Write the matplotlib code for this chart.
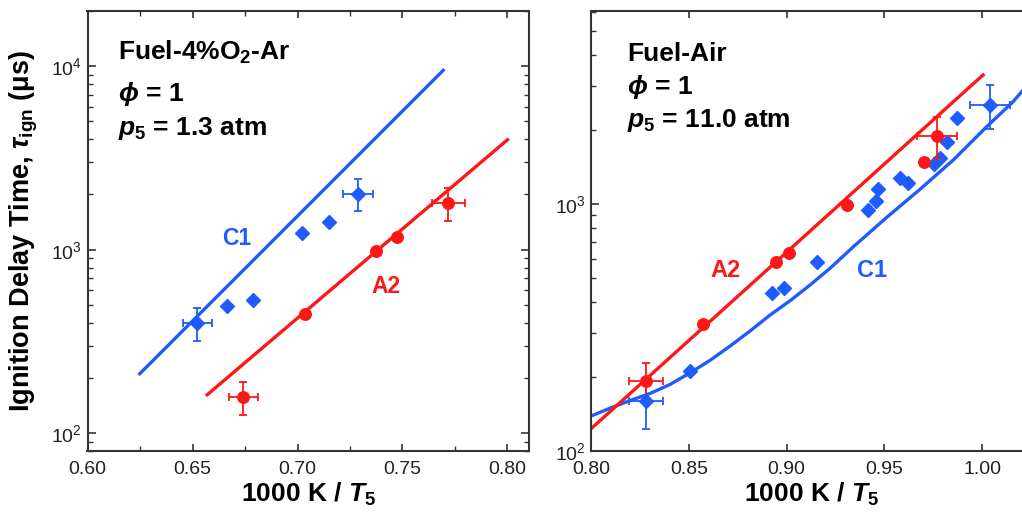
import numpy as np
import matplotlib
matplotlib.use("Agg")
import matplotlib.pyplot as plt
from matplotlib.ticker import MultipleLocator, LogLocator, NullFormatter, LogFormatterSciNotation

plt.rcParams["font.family"] = ["Liberation Sans", "DejaVu Sans"]
plt.rcParams["mathtext.fontset"] = "custom"
plt.rcParams["mathtext.rm"] = "Liberation Sans:bold"
plt.rcParams["mathtext.bf"] = "Liberation Sans:bold"
plt.rcParams["mathtext.it"] = "Liberation Sans:italic:bold"

blue = "#1f5cff"
red = "#ff1616"

# ---- left panel: Fuel-4%O2-Ar, p5 = 1.3 atm ----
c1_left_x = [0.6249, 0.7694]
c1_left_y = [211, 9500]
a2_left_x = [0.657, 0.800]
a2_left_y = [162, 3975]

dia_left_x = [0.6663, 0.6790, 0.7021, 0.7151]
dia_left_y = [492, 531, 1230, 1413]
dia_left_err_x = [0.6523, 0.7288]
dia_left_err_y = [399, 2020]
dia_left_xerr = [0.0068, 0.0072]
dia_left_yerr = [80, 400]

circ_left_x = [0.7037, 0.7376, 0.7475]
circ_left_y = [449, 984, 1178]
circ_left_err_x = [0.6742, 0.7718]
circ_left_err_y = [158, 1800]
circ_left_xerr = [0.0068, 0.0079]
circ_left_yerr = [32, 360]

# ---- right panel: Fuel-Air, p5 = 11.0 atm ----
c1_right_x = [0.7995, 0.8097, 0.8199, 0.8302, 0.8404, 0.8506, 0.8609, 0.8711, 0.8813,
              0.8915, 0.9018, 0.9120, 0.9222, 0.9341, 0.9512, 0.9682, 0.9852, 1.0023,
              1.0159, 1.0202]
c1_right_y = [138, 149, 160, 171, 186, 207, 233, 266, 306,
              355, 406, 470, 549, 671, 883, 1147, 1507, 2056,
              2600, 2850]
a2_right_x = [0.800, 1.0005]
a2_right_y = [123, 3334]

dia_right_x = [0.8506, 0.8924, 0.8986, 0.9158, 0.9417, 0.9456, 0.9470, 0.9580, 0.9622,
               0.9755, 0.9787, 0.9821, 0.9869]
dia_right_y = [210, 435, 459, 581, 946, 1028, 1147, 1270, 1213, 1450, 1530, 1778, 2224]
dia_right_err_x = [0.8281, 1.0039]
dia_right_err_y = [159, 2518]
dia_right_xerr = [0.0085, 0.0102]
dia_right_yerr = [36, 510]

circ_right_x = [0.8574, 0.8945, 0.9014, 0.9307, 0.9702]
circ_right_y = [328, 581, 631, 991, 1475]
circ_right_err_x = [0.8281, 0.9767]
circ_right_err_y = [192, 1892]
circ_right_xerr = [0.0085, 0.0102]
circ_right_yerr = [36, 360]

fig = plt.figure(figsize=(10.22, 5.15), dpi=100)
ax1 = fig.add_axes([87.5 / 1022, 64 / 515, 441 / 1022, 440 / 515])
ax2 = fig.add_axes([591 / 1022, 64 / 515, 441 / 1022, 440 / 515])

ebkw = dict(elinewidth=1.3, capsize=3, capthick=1.3, linestyle="none")
dms = 7.2   # diamond size
cms = 8.3   # circle size

# left
ax1.plot(c1_left_x, c1_left_y, color=blue, lw=2.4)
ax1.plot(a2_left_x, a2_left_y, color=red, lw=2.4)
ax1.plot(dia_left_x, dia_left_y, "D", color=blue, ms=dms)
ax1.errorbar(dia_left_err_x, dia_left_err_y, xerr=dia_left_xerr, yerr=dia_left_yerr,
             fmt="D", color=blue, ms=dms, **ebkw)
ax1.plot(circ_left_x, circ_left_y, "o", color=red, ms=cms)
ax1.errorbar(circ_left_err_x, circ_left_err_y, xerr=circ_left_xerr, yerr=circ_left_yerr,
             fmt="o", color=red, ms=cms, **ebkw)

# right
ax2.plot(c1_right_x, c1_right_y, color=blue, lw=2.4)
ax2.plot(a2_right_x, a2_right_y, color=red, lw=2.4)
ax2.plot(dia_right_x, dia_right_y, "D", color=blue, ms=dms)
ax2.errorbar(dia_right_err_x, dia_right_err_y, xerr=dia_right_xerr, yerr=dia_right_yerr,
             fmt="D", color=blue, ms=dms, **ebkw)
ax2.plot(circ_right_x, circ_right_y, "o", color=red, ms=cms)
ax2.errorbar(circ_right_err_x, circ_right_err_y, xerr=circ_right_xerr, yerr=circ_right_yerr,
             fmt="o", color=red, ms=cms, **ebkw)

ax1.set_xlim(0.60, 0.81)
ax1.set_ylim(80, 20000)
ax2.set_xlim(0.80, 1.0255)
ax2.set_ylim(100, 6050)

for ax in [ax1, ax2]:
    ax.set_yscale("log")
    ax.xaxis.set_major_locator(MultipleLocator(0.05))
    ax.xaxis.set_major_formatter(plt.FormatStrFormatter("%.2f"))
    ax.yaxis.set_major_locator(LogLocator(base=10))
    ax.yaxis.set_major_formatter(LogFormatterSciNotation())
    ax.yaxis.set_minor_locator(LogLocator(base=10, subs=np.arange(2, 10)))
    ax.yaxis.set_minor_formatter(NullFormatter())
    ax.tick_params(which="both", direction="in", top=True, right=True,
                   labelsize=14, colors="#333333", labelcolor="#222222")
    ax.tick_params(axis="x", which="major", length=5, width=1.2, pad=7)
    ax.tick_params(axis="y", which="major", length=6, width=1.2, pad=4)
    ax.tick_params(which="minor", length=3.5, width=1.0)
    for s in ax.spines.values():
        s.set_linewidth(1.5)
        s.set_color("#333333")
    ax.set_xlabel(r"1000 K / $T_5$", fontsize=19, fontweight="bold", labelpad=2)

ax1.xaxis.set_minor_locator(MultipleLocator(0.025))

fig.text(23.6 / 1022, 0.551, r"Ignition Delay Time, $\tau_{\rm ign}$ (μs)", rotation=90,
         ha="center", va="center", fontsize=19.5, fontweight="bold")

# annotations
ax1.text(0.069, 0.889, r"Fuel-4%O$_2$-Ar", transform=ax1.transAxes, fontsize=19, fontweight="bold")
ax1.text(0.069, 0.795, r"$\phi$ = 1", transform=ax1.transAxes, fontsize=19, fontweight="bold")
ax1.text(0.069, 0.718, r"$p_5$ = 1.3 atm", transform=ax1.transAxes, fontsize=19, fontweight="bold")
ax1.text(0.6711, 1153, "C1", color=blue, fontsize=16.5, fontweight="bold", ha="center", va="center")
ax1.text(0.7419, 634, "A2", color=red, fontsize=16.5, fontweight="bold", ha="center", va="center")

ax2.text(0.082, 0.887, "Fuel-Air", transform=ax2.transAxes, fontsize=19, fontweight="bold")
ax2.text(0.082, 0.811, r"$\phi$ = 1", transform=ax2.transAxes, fontsize=19, fontweight="bold")
ax2.text(0.082, 0.737, r"$p_5$ = 11.0 atm", transform=ax2.transAxes, fontsize=19, fontweight="bold")
ax2.text(0.8688, 537, "A2", color=red, fontsize=17, fontweight="bold", ha="center", va="center")
ax2.text(0.9439, 537, "C1", color=blue, fontsize=17, fontweight="bold", ha="center", va="center")

fig.savefig("out.png", dpi=100)
